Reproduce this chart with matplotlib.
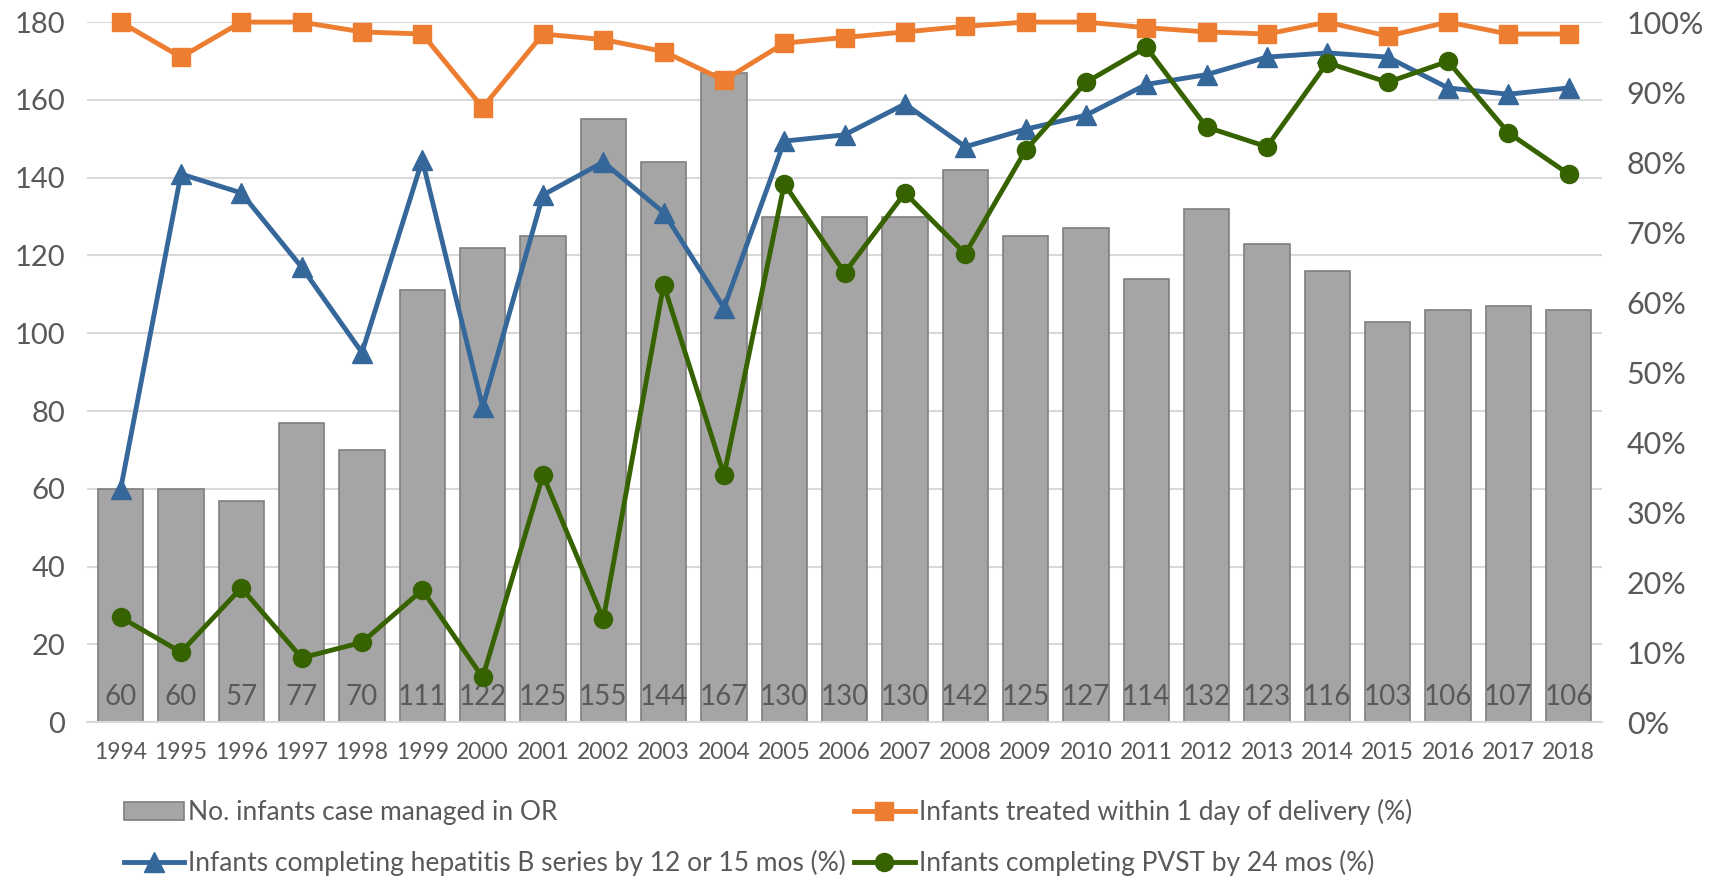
import matplotlib
matplotlib.use("Agg")
import matplotlib.pyplot as plt
from matplotlib.ticker import PercentFormatter
import numpy as np

plt.rcParams['font.family'] = ['Lato', 'DejaVu Sans']

# --- Data ---
years = list(range(1994, 2019))
cases = [60, 60, 57, 77, 70, 111, 122, 125, 155, 144, 167, 130, 130,
         130, 142, 125, 127, 114, 132, 123, 116, 103, 106, 107, 106]
treated_1day = [100, 95, 100, 100, 98.6, 98.3, 87.8, 98.3, 97.5, 95.8, 91.7, 97.0, 97.8,
                98.6, 99.4, 100, 100, 99.2, 98.6, 98.3, 100, 98.0, 100, 98.3, 98.3]
hepb_series = [33.3, 78.3, 75.6, 65.0, 52.8, 80.3, 45.0, 75.3, 80.0, 72.8, 59.2, 83.0, 83.9,
               88.3, 82.2, 84.7, 86.7, 91.1, 92.5, 95.0, 95.6, 95.0, 90.6, 89.7, 90.6]
pvst = [15.0, 10.0, 19.2, 9.2, 11.4, 18.9, 6.4, 35.3, 14.7, 62.5, 35.3, 76.9, 64.2,
        75.6, 66.9, 81.7, 91.4, 96.4, 85.0, 82.2, 94.2, 91.4, 94.4, 84.2, 78.3]

# --- Colours ---
C_BAR = "#A5A5A5"
C_BAR_EDGE = "#7F7F7F"
C_ORANGE = "#ED7D31"
C_BLUE = "#35679A"
C_GREEN = "#376200"
C_TEXT = "#595959"
C_GRID = "#D9D9D9"

fig = plt.figure(figsize=(17.15, 8.84), dpi=100)
ax = fig.add_axes([0.051, 0.183, 0.883, 0.792])
ax2 = ax.twinx()

x = np.arange(len(years))
bars = ax.bar(x, cases, width=0.75, color=C_BAR, edgecolor=C_BAR_EDGE,
              linewidth=1.2, label="No. infants case managed in OR", zorder=2)
for xi, v in zip(x, cases):
    ax.text(xi, 6.5, str(v), ha="center", va="center", fontsize=20, color=C_TEXT, zorder=3)

pct = lambda s: [v / 100 for v in s]
l_or, = ax2.plot(x, pct(treated_1day), color=C_ORANGE, lw=3.5, marker="s", ms=13,
                 clip_on=False, label="Infants treated within 1 day of delivery (%)")
l_bl, = ax2.plot(x, pct(hepb_series), color=C_BLUE, lw=3.5, marker="^", ms=14,
                 clip_on=False, label="Infants completing hepatitis B series by 12 or 15 mos (%)")
l_gr, = ax2.plot(x, pct(pvst), color=C_GREEN, lw=3.5, marker="o", ms=13,
                 clip_on=False, label="Infants completing PVST by 24 mos (%)")

ax.set_xlim(-0.55, len(years) - 0.45)
ax.set_ylim(0, 180)
ax.set_yticks(range(0, 181, 20))
ax2.set_ylim(0, 1)
ax2.set_yticks(np.arange(0, 1.01, 0.1))
ax2.yaxis.set_major_formatter(PercentFormatter(1.0, decimals=0))

ax.set_xticks(x)
ax.set_xticklabels([str(y) for y in years])
ax.yaxis.grid(True, color=C_GRID, lw=1.5, zorder=0)
ax.set_axisbelow(True)

for a in (ax, ax2):
    for s in a.spines.values():
        s.set_visible(False)
    a.tick_params(length=0, colors=C_TEXT)
ax.spines["bottom"].set_visible(True)
ax.spines["bottom"].set_color(C_GRID)
ax.spines["bottom"].set_linewidth(1.5)
ax.tick_params(axis="y", labelsize=21, pad=16)
ax.tick_params(axis="x", labelsize=16.5, pad=14)
ax2.tick_params(axis="y", labelsize=22, pad=18)

leg = fig.legend(handles=[bars, l_bl, l_or, l_gr], ncol=2, loc="upper left",
                 bbox_to_anchor=(0.066, 0.108), frameon=False, fontsize=19,
                 labelcolor=C_TEXT, handlelength=2.3, handletextpad=0.15,
                 columnspacing=0.3, labelspacing=0.95, borderaxespad=0)

fig.savefig("out.png", dpi=100, facecolor="white")
